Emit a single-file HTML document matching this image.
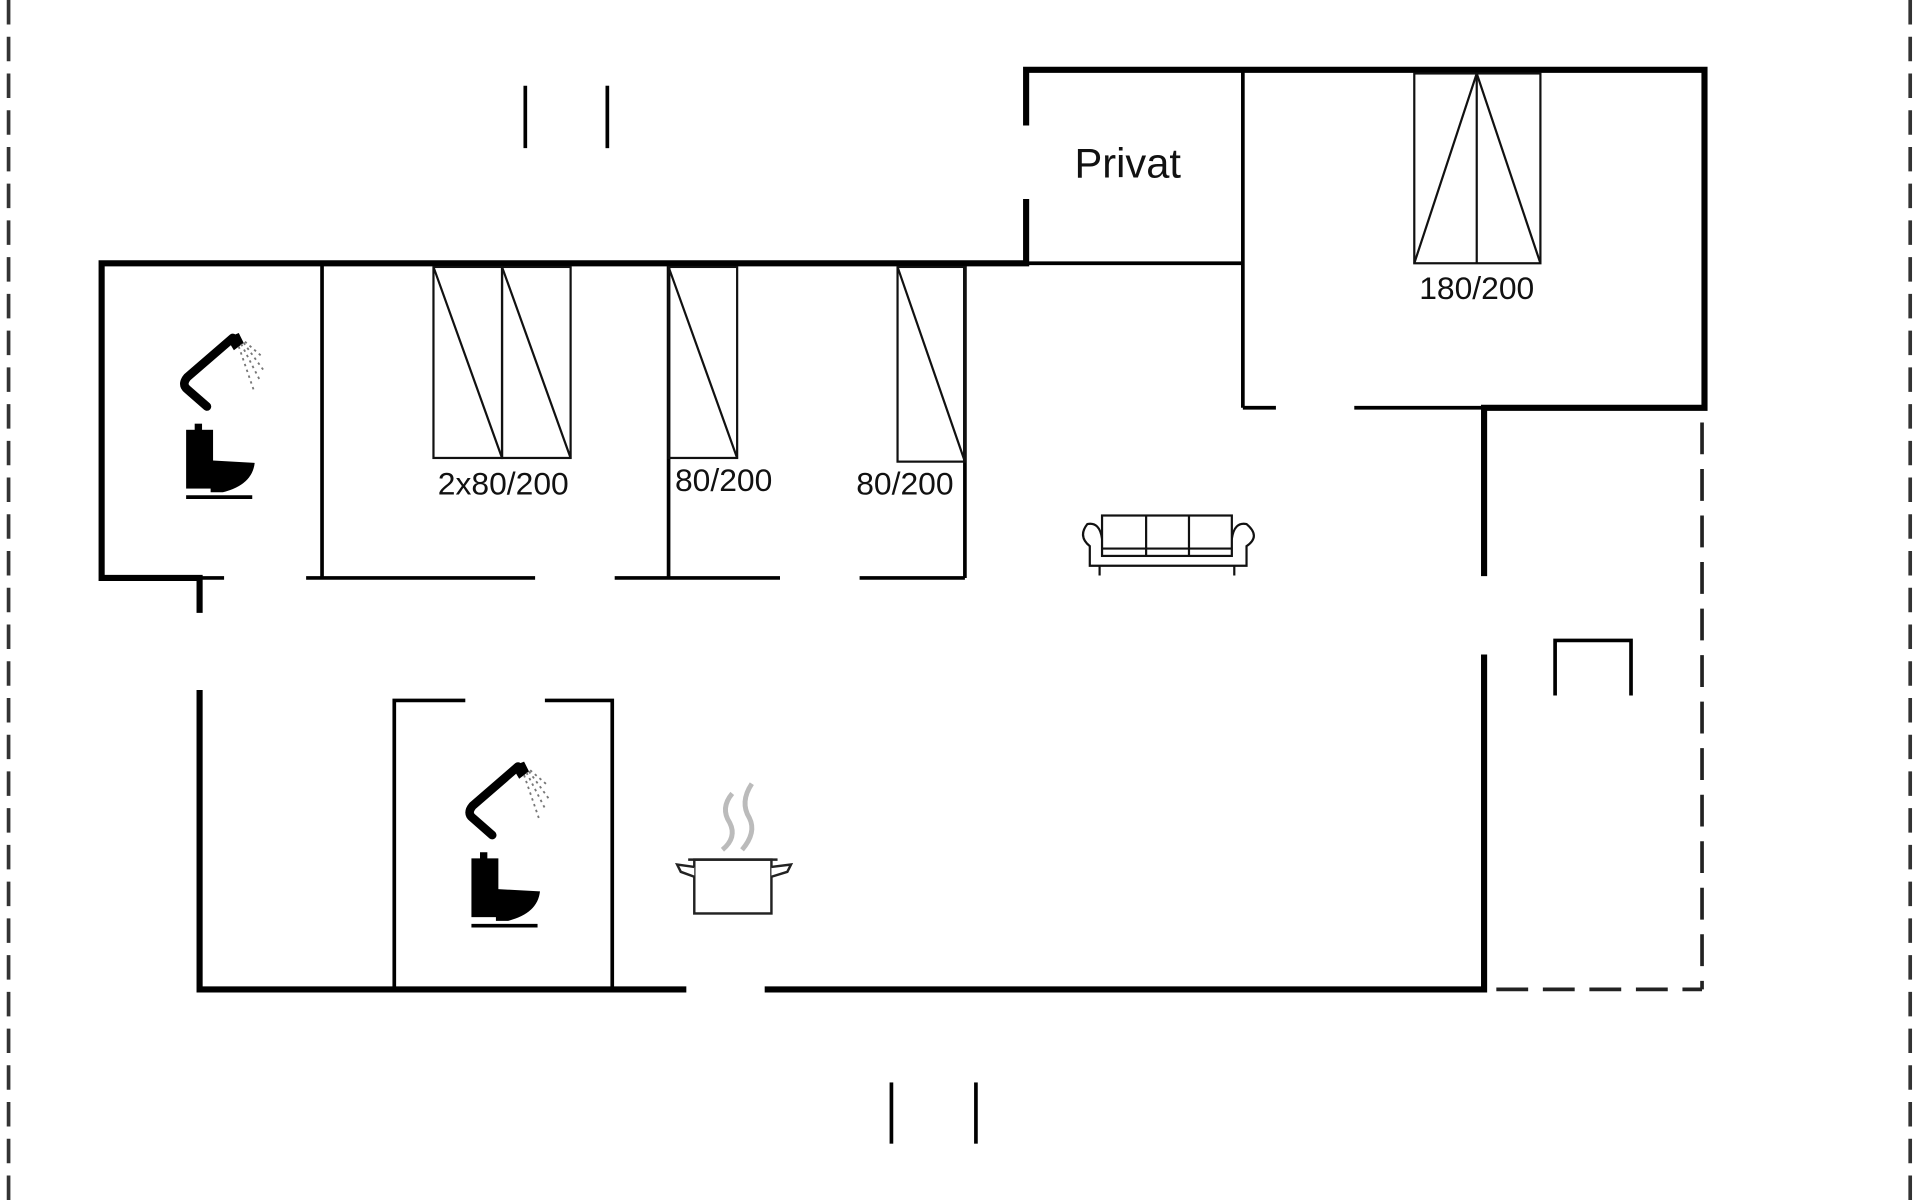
<!DOCTYPE html>
<html><head><meta charset="utf-8"><style>
html,body{margin:0;padding:0;background:#fff;}
svg{display:block;}
text{font-family:"Liberation Sans",sans-serif;fill:#111;}
</style></head><body>
<svg width="1920" height="1200" viewBox="0 0 1568 980" xmlns="http://www.w3.org/2000/svg">
<defs>
<g id="wc">
  <path d="M45 6 L8 38 Q3 44 8 48 L24 62" fill="none" stroke="#000" stroke-width="7" stroke-linecap="round"/>
  <path d="M40 6 L50 2 L54 10 L46 16 Z" fill="#000"/>
  <g stroke="#777" stroke-width="1.5" stroke-dasharray="2 3">
    <line x1="50" y1="13" x2="62" y2="48"/>
    <line x1="52" y1="11" x2="68" y2="42"/>
    <line x1="54" y1="10" x2="70" y2="32"/>
    <line x1="55" y1="9" x2="70" y2="22"/>
  </g>
  <g transform="translate(7,76)">
    <rect x="7" y="0" width="6" height="6" fill="#000"/>
    <rect x="0" y="5" width="22" height="48" fill="#000"/>
    <path d="M20 30 L56 32 Q54 50 30 56 L20 56 Z" fill="#000"/>
    <line x1="0" y1="60" x2="54" y2="60" stroke="#000" stroke-width="3"/>
  </g>
</g>
</defs>
<g stroke="#333" stroke-width="3" stroke-dasharray="20 10" fill="none">
  <line x1="7" y1="0" x2="7" y2="980"/>
  <line x1="1560" y1="0" x2="1560" y2="980"/>
</g>
<g stroke="#000" stroke-width="5" fill="none" stroke-linecap="square">
  <polyline points="838,100 838,57 1392,57 1392,333 1212,333 1212,468"/>
  <polyline points="838,165 838,215 83,215 83,472 163,472 163,498"/>
  <polyline points="1212,537 1212,808 627,808"/>
  <polyline points="558,808 163,808 163,566"/>
</g>
<g stroke="#000" stroke-width="3" fill="none">
  <line x1="263" y1="215" x2="263" y2="472"/>
  <line x1="546" y1="215" x2="546" y2="472"/>
  <line x1="788" y1="215" x2="788" y2="472"/>
  <line x1="163" y1="472" x2="183" y2="472"/>
  <line x1="250" y1="472" x2="437" y2="472"/>
  <line x1="502" y1="472" x2="637" y2="472"/>
  <line x1="702" y1="472" x2="788" y2="472"/>
  <line x1="838" y1="215" x2="1015" y2="215"/>
  <line x1="1015" y1="57" x2="1015" y2="333"/>
  <line x1="1015" y1="333" x2="1042" y2="333"/>
  <line x1="1106" y1="333" x2="1212" y2="333"/>
  <polyline points="380,572 322,572 322,808"/>
  <polyline points="445,572 500,572 500,808"/>
  <polyline points="1270,568 1270,523 1332,523 1332,568"/>
  <line x1="429" y1="70" x2="429" y2="121"/>
  <line x1="496" y1="70" x2="496" y2="121"/>
  <line x1="728" y1="884" x2="728" y2="934"/>
  <line x1="797" y1="884" x2="797" y2="934"/>
</g>
<g stroke="#222" stroke-width="3" stroke-dasharray="26 12" fill="none">
  <line x1="1390" y1="345" x2="1390" y2="808"/>
  <line x1="1222" y1="808" x2="1390" y2="808"/>
</g>
<g stroke="#111" stroke-width="1.8" fill="none">
  <rect x="354" y="218" width="56" height="156"/>
  <rect x="410" y="218" width="56" height="156"/>
  <line x1="354" y1="218" x2="410" y2="374"/>
  <line x1="410" y1="218" x2="466" y2="374"/>
  <rect x="546" y="218" width="56" height="156"/>
  <line x1="546" y1="218" x2="602" y2="374"/>
  <rect x="733" y="218" width="55" height="159"/>
  <line x1="733" y1="218" x2="788" y2="377"/>
  <rect x="1155" y="60" width="103" height="155"/>
  <line x1="1206" y1="60" x2="1206" y2="215"/>
  <line x1="1206" y1="60" x2="1155" y2="215"/>
  <line x1="1206" y1="60" x2="1258" y2="215"/>
</g>
<g font-size="26" text-anchor="middle">
  <text x="411" y="404">2x80/200</text>
  <text x="591" y="401">80/200</text>
  <text x="739" y="404">80/200</text>
  <text x="1206" y="244">180/200</text>
</g>
<text x="921" y="145" font-size="34" text-anchor="middle">Privat</text>
<use href="#wc" transform="translate(145,270)"/>
<use href="#wc" transform="translate(378,620)"/>
<g stroke="#111" stroke-width="1.8" fill="#fff">
  <path d="M888 428 Q880 438 890 446 L890 462 L1018 462 L1018 446 Q1030 438 1018 428 Q1008 426 1006 440 L900 440 Q898 426 888 428 Z"/>
  <rect x="900" y="421" width="106" height="33"/>
  <line x1="936" y1="421" x2="936" y2="454"/>
  <line x1="971" y1="421" x2="971" y2="454"/>
  <line x1="900" y1="448" x2="1006" y2="448"/>
  <line x1="898" y1="462" x2="898" y2="470"/>
  <line x1="1008" y1="462" x2="1008" y2="470"/>
</g>
<g stroke="#222" stroke-width="2" fill="#fff">
  <rect x="567" y="702" width="63" height="44"/>
  <path d="M567 708 L553 706 L556 712 L567 716"/>
  <path d="M630 708 L646 706 L643 712 L630 716"/>
  <line x1="562" y1="702" x2="635" y2="702"/>
</g>
<g stroke="#bbb" stroke-width="4" fill="none">
  <path d="M598 648 Q588 660 596 672 Q602 684 590 694"/>
  <path d="M614 640 Q604 655 612 668 Q618 680 606 694"/>
</g>
</svg>
</body></html>
